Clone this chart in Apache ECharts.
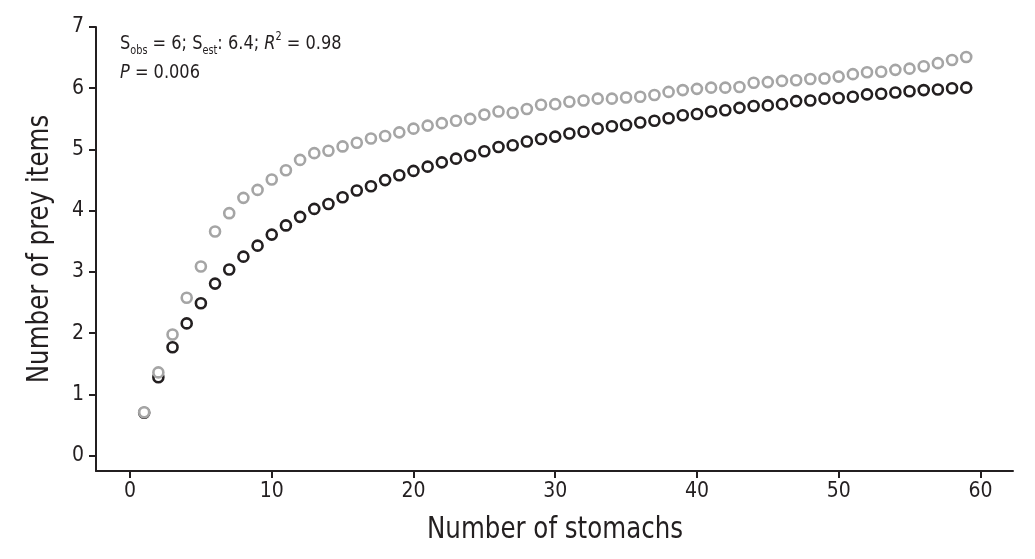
<!DOCTYPE html>
<html>
<head>
<meta charset="utf-8">
<script src="https://cdn.jsdelivr.net/npm/echarts@6/dist/echarts.min.js"></script>
<style>html,body{margin:0;padding:0;background:#fff;overflow:hidden}#c{width:1035px;height:559px}</style>
</head>
<body>
<div id="c"></div>
<script>
const stomachs = [1,2,3,4,5,6,7,8,9,10,11,12,13,14,15,16,17,18,19,20,21,22,23,24,25,26,27,28,29,30,31,32,33,34,35,36,37,38,39,40,41,42,43,44,45,46,47,48,49,50,51,52,53,54,55,56,57,58,59];
const observed = [0.70,1.28,1.77,2.16,2.49,2.81,3.04,3.25,3.43,3.61,3.76,3.90,4.03,4.11,4.22,4.33,4.40,4.50,4.58,4.65,4.72,4.79,4.85,4.90,4.97,5.04,5.07,5.13,5.17,5.21,5.26,5.29,5.34,5.38,5.40,5.44,5.47,5.51,5.56,5.58,5.62,5.64,5.68,5.71,5.72,5.74,5.79,5.80,5.83,5.84,5.86,5.90,5.91,5.93,5.95,5.97,5.98,6.00,6.01];
const estimated = [0.71,1.36,1.98,2.58,3.09,3.66,3.96,4.21,4.34,4.51,4.66,4.83,4.94,4.98,5.05,5.11,5.18,5.22,5.28,5.34,5.39,5.43,5.47,5.50,5.57,5.62,5.60,5.66,5.73,5.74,5.78,5.80,5.83,5.83,5.85,5.86,5.89,5.94,5.97,5.99,6.01,6.01,6.02,6.09,6.10,6.12,6.13,6.15,6.16,6.19,6.23,6.26,6.27,6.30,6.32,6.36,6.41,6.46,6.51];
const xTicks = [0,10,20,30,40,50,60];
const yTicks = [0,1,2,3,4,5,6,7];
const xTitle = 'Number of stomachs';
const yTitle = 'Number of prey items';

const FONT = "'Liberation Sans Narrow','DejaVu Sans Condensed','Liberation Sans',sans-serif";
const INK = '#231f20';
const GRAY = '#a5a5a5';

const chart = echarts.init(document.getElementById('c'), null, {renderer: 'canvas'});
chart.setOption({
  animation: false,
  backgroundColor: '#fff',
  grid: {left: 96, right: 22, top: 27, bottom: 88, containLabel: false},
  xAxis: {
    type: 'value', min: -2.4, max: 62.3,
    axisLine: {show: true, onZero: false, lineStyle: {color: INK, width: 2}},
    axisTick: {show: true, customValues: xTicks, length: 7, lineStyle: {color: INK, width: 2}},
    axisLabel: {customValues: xTicks, fontFamily: FONT, fontSize: 21, color: INK, margin: 10},
    splitLine: {show: false}
  },
  yAxis: {
    type: 'value', min: -0.25, max: 7,
    axisLine: {show: true, onZero: false, lineStyle: {color: INK, width: 2}},
    axisTick: {show: true, customValues: yTicks, length: 7, lineStyle: {color: INK, width: 2}},
    axisLabel: {customValues: yTicks, fontFamily: FONT, fontSize: 21, color: INK, margin: 12},
    splitLine: {show: false}
  },
  series: [
    {
      name: 'Observed', type: 'scatter', symbol: 'circle', symbolSize: 10,
      data: stomachs.map((s, i) => [s, observed[i]]),
      itemStyle: {color: '#fff', borderColor: INK, borderWidth: 2.6, opacity: 1},
      z: 2
    },
    {
      name: 'Estimated', type: 'scatter', symbol: 'circle', symbolSize: 10,
      data: stomachs.map((s, i) => [s, estimated[i]]),
      itemStyle: {color: '#fff', borderColor: GRAY, borderWidth: 2.6, opacity: 1},
      z: 3
    }
  ],
  graphic: [
    {
      type: 'text', x: 555, y: 530, scaleX: 0.88,
      style: {text: xTitle, fontFamily: FONT, fontSize: 31, fill: INK, textAlign: 'center', textVerticalAlign: 'middle'}
    },
    {
      type: 'text', x: 40, y: 249, rotation: Math.PI / 2, scaleX: 0.88,
      style: {text: yTitle, fontFamily: FONT, fontSize: 31, fill: INK, textAlign: 'center', textVerticalAlign: 'middle'}
    },
    {
      type: 'text', x: 120, y: 31, scaleX: 0.9,
      style: {
        text: '{m|S}{s|obs}{m| = 6; S}{s|est}{m|: 6.4; }{i|R}{p|2}{m| = 0.98}',
        rich: {
          m: {fontFamily: FONT, fontSize: 20, fill: INK, lineHeight: 26},
          i: {fontFamily: FONT, fontSize: 20, fontStyle: 'italic', fill: INK, lineHeight: 26},
          s: {fontFamily: FONT, fontSize: 12, fill: INK, lineHeight: 14, verticalAlign: 'bottom'},
          p: {fontFamily: FONT, fontSize: 12, fill: INK, lineHeight: 14, verticalAlign: 'top'}
        }
      }
    },
    {
      type: 'text', x: 120, y: 60, scaleX: 0.9,
      style: {
        text: '{i|P}{m| = 0.006}',
        rich: {
          m: {fontFamily: FONT, fontSize: 20, fill: INK, lineHeight: 26},
          i: {fontFamily: FONT, fontSize: 20, fontStyle: 'italic', fill: INK, lineHeight: 26}
        }
      }
    }
  ]
});
</script>
</body>
</html>
